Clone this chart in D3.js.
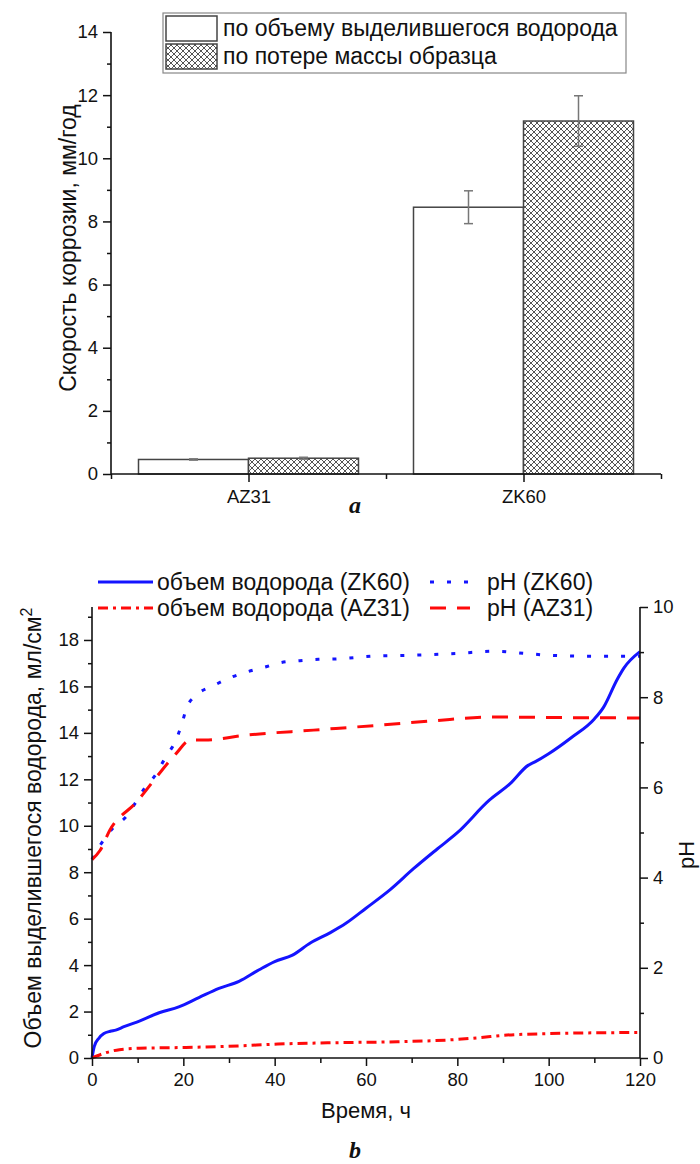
<!DOCTYPE html>
<html><head><meta charset="utf-8">
<script src="https://cdn.jsdelivr.net/npm/d3@7/dist/d3.min.js"></script>
<style>
body{margin:0;background:#fff;}
svg text{font-family:"Liberation Sans",Arial,sans-serif;fill:#111;}
</style></head>
<body>
<svg id="c" width="700" height="1164"></svg>
<script>
// ---------- DATA: chart a ----------
const barCategories = ["AZ31", "ZK60"];
const barSeriesNames = ["по объему выделившегося водорода", "по потере массы образца"];
const hydrogenRate = [0.46, 8.45];
const hydrogenErr = [0.02, 0.52];
const massLossRate = [0.50, 11.18];
const massLossErr = [0.03, 0.80];
const barYTicks = [0, 2, 4, 6, 8, 10, 12, 14];

// ---------- DATA: chart b ----------
const volZK60_t = [0,0.5,1.5,2.6,4,5.2,7,10.5,14.7,19,23.4,27.8,32.2,36.6,40,43.9,47.8,52.2,55.6,60,65.3,70.4,75.6,80,87,91.5,95.5,97,100,105,110,112,115,116.5,120];
const volZK60_v = [0,0.5,0.85,1.05,1.15,1.2,1.35,1.6,1.95,2.2,2.6,3.0,3.3,3.8,4.15,4.43,4.95,5.4,5.8,6.45,7.25,8.15,9.0,9.7,11.1,11.8,12.6,12.75,13.1,13.8,14.6,15.1,16.3,16.8,17.5];
const volAZ31_t = [0,2.6,6,10.4,19,32,40.7,53.9,66.9,80,85,90.3,100,120];
const volAZ31_v = [0,0.2,0.36,0.42,0.45,0.52,0.6,0.66,0.7,0.8,0.88,0.98,1.05,1.1];
const phZK60_t = [0,2,4.6,7.2,11.6,14.2,16,18.2,19.6,20.7,22.9,26.5,30.2,33.9,37.9,41.5,45.5,49.6,53.6,57.6,61.6,70,80,88,95,100,110,120];
const phZK60_v = [4.4,4.75,5.1,5.32,5.99,6.32,6.65,7.01,7.38,7.76,8.05,8.25,8.43,8.56,8.67,8.77,8.81,8.84,8.85,8.88,8.91,8.93,8.97,9.02,8.97,8.93,8.91,8.91];
const phAZ31_t = [0,1.75,3.9,9.8,14.2,18.5,21.5,24.7,33.9,48.5,63,75,88,100,120];
const phAZ31_v = [4.4,4.6,5.05,5.68,6.24,6.76,7.05,7.05,7.16,7.27,7.38,7.48,7.56,7.55,7.54];
const timeTicks = [0,20,40,60,80,100,120];
const volTicks = [0,2,4,6,8,10,12,14,16,18];
const phTicks = [0,2,4,6,8,10];
const lineLegend = ["объем водорода (ZK60)", "pH (ZK60)", "объем водорода (AZ31)", "pH (AZ31)"];

const svg = d3.select("#c");
const defs = svg.append("defs");
const pat = defs.append("pattern").attr("id","hatch").attr("patternUnits","userSpaceOnUse")
  .attr("width",6).attr("height",6);
pat.append("rect").attr("width",6).attr("height",6).attr("fill","#fff");
pat.append("path").attr("d","M0,0L6,6M6,0L0,6M-1,5L1,7M5,-1L7,1M-1,1L1,-1M5,7L7,5")
  .attr("stroke","#555").attr("stroke-width",1);

// ================= CHART A =================
const ax0 = 111, ax1 = 661, ayTop = 32, ayBot = 474;
const xA = d3.scaleLinear().domain([0.5, 2.5]).range([ax0, ax1]);
const yA = d3.scaleLinear().domain([0, 14]).range([ayBot, ayTop]);
const barW = (xA(2) - xA(1)) * 0.4;
const gA = svg.append("g");

const seriesA = [
  {vals: hydrogenRate, err: hydrogenErr, fill: "#fff", off: -1},
  {vals: massLossRate, err: massLossErr, fill: "url(#hatch)", off: 0}
];
seriesA.forEach(s => {
  barCategories.forEach((c, i) => {
    const x = xA(i + 1) + s.off * barW;
    gA.append("rect").attr("x", x).attr("y", yA(s.vals[i]))
      .attr("width", barW).attr("height", yA(0) - yA(s.vals[i]))
      .attr("fill", s.fill).attr("stroke", "#444").attr("stroke-width", 1.5);
  });
});
seriesA.forEach(s => {
  barCategories.forEach((c, i) => {
    const cx = xA(i + 1) + s.off * barW + barW / 2;
    const lo = yA(s.vals[i] - s.err[i]), hi = yA(s.vals[i] + s.err[i]);
    gA.append("line").attr("x1", cx).attr("x2", cx).attr("y1", lo).attr("y2", hi)
      .attr("stroke", "#777").attr("stroke-width", 1.5);
    [lo, hi].forEach(yy => gA.append("line").attr("x1", cx - 4.5).attr("x2", cx + 4.5)
      .attr("y1", yy).attr("y2", yy).attr("stroke", "#777").attr("stroke-width", 1.5));
  });
});

// y axis A
gA.append("g").attr("transform", `translate(${ax0},0)`)
  .call(d3.axisLeft(yA).tickValues(barYTicks).tickSize(8).tickPadding(5).tickFormat(d3.format("d")));
gA.append("g").attr("transform", `translate(${ax0},0)`)
  .call(d3.axisLeft(yA).tickValues(d3.range(1, 14, 2)).tickSize(4).tickFormat(""));
// x axis A
gA.append("g").attr("transform", `translate(0,${ayBot})`)
  .call(d3.axisBottom(xA).tickValues([1, 2]).tickSize(8).tickPadding(8).tickFormat(d => barCategories[d - 1]));
gA.append("g").attr("transform", `translate(0,${ayBot})`)
  .call(d3.axisBottom(xA).tickValues([0.5, 1.5, 2.5]).tickSize(5).tickFormat(""));
gA.selectAll(".domain").attr("d", null);
gA.append("line").attr("x1", ax0).attr("x2", ax0).attr("y1", ayTop).attr("y2", ayBot).attr("stroke", "#111").attr("stroke-width", 1.6);
gA.append("line").attr("x1", ax0).attr("x2", ax1).attr("y1", ayBot).attr("y2", ayBot).attr("stroke", "#111").attr("stroke-width", 1.6);
gA.selectAll(".tick line").attr("stroke", "#111").attr("stroke-width", 1.5);
gA.selectAll(".tick text").attr("font-size", 18.5).attr("fill", "#111");

gA.append("text").attr("transform", `translate(76,248) rotate(-90)`)
  .attr("text-anchor", "middle").attr("font-size", 23).text("Скорость коррозии, мм/год");

// legend A
const lgA = gA.append("g");
lgA.append("rect").attr("x", 163).attr("y", 13).attr("width", 463).attr("height", 60)
  .attr("fill", "#fff").attr("stroke", "#888").attr("stroke-width", 1.2);
barSeriesNames.forEach((n, i) => {
  lgA.append("rect").attr("x", 166).attr("y", 16 + i * 28).attr("width", 51).attr("height", 25)
    .attr("fill", seriesA[i].fill).attr("stroke", "#444").attr("stroke-width", 1.5);
  lgA.append("text").attr("x", 223).attr("y", 36 + i * 28).attr("font-size", 23).text(n);
});

svg.append("text").attr("x", 355).attr("y", 513).attr("text-anchor", "middle")
  .style("font-family", "'Liberation Serif','Times New Roman',serif").style("font-style", "italic")
  .style("font-weight", "bold").attr("font-size", 24).text("a");

// ================= CHART B =================
const bx0 = 92, bx1 = 640, byTop = 607, byBot = 1058;
const xB = d3.scaleLinear().domain([0, 120]).range([bx0, bx1]);
const yB = d3.scaleLinear().domain([0, 19.42]).range([byBot, byTop]);
const yP = d3.scaleLinear().domain([0, 10]).range([byBot, byTop]);
const gB = svg.append("g");

const mk = (ts, vs) => ts.map((t, i) => [t, vs[i]]);
const series = [
  {d: mk(volZK60_t, volZK60_v), y: yB, color: "#1414ff", dash: null, w: 3},
  {d: mk(phZK60_t, phZK60_v), y: yP, color: "#1414ff", dash: "4,13", w: 3},
  {d: mk(volAZ31_t, volAZ31_v), y: yB, color: "#ff0a0a", dash: "10,5,3,5", w: 3},
  {d: mk(phAZ31_t, phAZ31_v), y: yP, color: "#ff0a0a", dash: "16,11", w: 3}
];
series.forEach(s => {
  const line = d3.line().x(d => xB(d[0])).y(d => s.y(d[1])).curve(d3.curveMonotoneX);
  gB.append("path").attr("d", line(s.d)).attr("fill", "none").attr("stroke", s.color)
    .attr("stroke-width", s.w).attr("stroke-dasharray", s.dash);
});

gB.append("g").attr("transform", `translate(${bx0},0)`)
  .call(d3.axisLeft(yB).tickValues(volTicks).tickSize(8).tickPadding(5).tickFormat(d3.format("d")));
gB.append("g").attr("transform", `translate(${bx0},0)`)
  .call(d3.axisLeft(yB).tickValues(d3.range(1, 20, 2)).tickSize(4).tickFormat(""));
gB.append("g").attr("transform", `translate(${bx1},0)`)
  .call(d3.axisRight(yP).tickValues(phTicks).tickSize(8).tickPadding(5).tickFormat(d3.format("d")));
gB.append("g").attr("transform", `translate(${bx1},0)`)
  .call(d3.axisRight(yP).tickValues(d3.range(1, 10, 2)).tickSize(4).tickFormat(""));
gB.append("g").attr("transform", `translate(0,${byBot})`)
  .call(d3.axisBottom(xB).tickValues(timeTicks).tickSize(8).tickPadding(7).tickFormat(d3.format("d")));
gB.append("g").attr("transform", `translate(0,${byBot})`)
  .call(d3.axisBottom(xB).tickValues(d3.range(10, 120, 20)).tickSize(5).tickFormat(""));
gB.selectAll(".domain").attr("d", null);
[[bx0, byTop, bx0, byBot], [bx1, byTop, bx1, byBot], [bx0, byBot, bx1, byBot]].forEach(l =>
  gB.append("line").attr("x1", l[0]).attr("y1", l[1]).attr("x2", l[2]).attr("y2", l[3])
    .attr("stroke", "#111").attr("stroke-width", 1.6));
gB.selectAll(".tick line").attr("stroke", "#111").attr("stroke-width", 1.5);
gB.selectAll(".tick text").attr("font-size", 18.5).attr("fill", "#111");

gB.append("text").attr("x", 366).attr("y", 1118).attr("text-anchor", "middle")
  .attr("font-size", 22).text("Время, ч");
const yl = gB.append("text").attr("transform", `translate(41,828) rotate(-90)`)
  .attr("text-anchor", "middle").attr("font-size", 23);
yl.append("tspan").text("Объем выделившегося водорода, мл/см");
yl.append("tspan").attr("dy", -9).attr("font-size", 16).text("2");
gB.append("text").attr("transform", `translate(694,855) rotate(-90)`)
  .attr("text-anchor", "middle").attr("font-size", 22).text("pH");

// legend B
const legPos = [[98, 582], [430, 582], [98, 608], [430, 608]];
const legLen = [55, 40, 55, 40];
series.forEach((s, i) => {
  const [lx, ly] = legPos[i];
  gB.append("line").attr("x1", lx).attr("x2", lx + legLen[i]).attr("y1", ly).attr("y2", ly)
    .attr("stroke", s.color).attr("stroke-width", s.w).attr("stroke-dasharray", s.dash);
  gB.append("text").attr("x", i % 2 === 0 ? 157 : 487).attr("y", ly + 8).attr("font-size", 23).text(lineLegend[i]);
});

svg.append("text").attr("x", 355).attr("y", 1158).attr("text-anchor", "middle")
  .style("font-family", "'Liberation Serif','Times New Roman',serif").style("font-style", "italic")
  .style("font-weight", "bold").attr("font-size", 24).text("b");
</script>
</body></html>
